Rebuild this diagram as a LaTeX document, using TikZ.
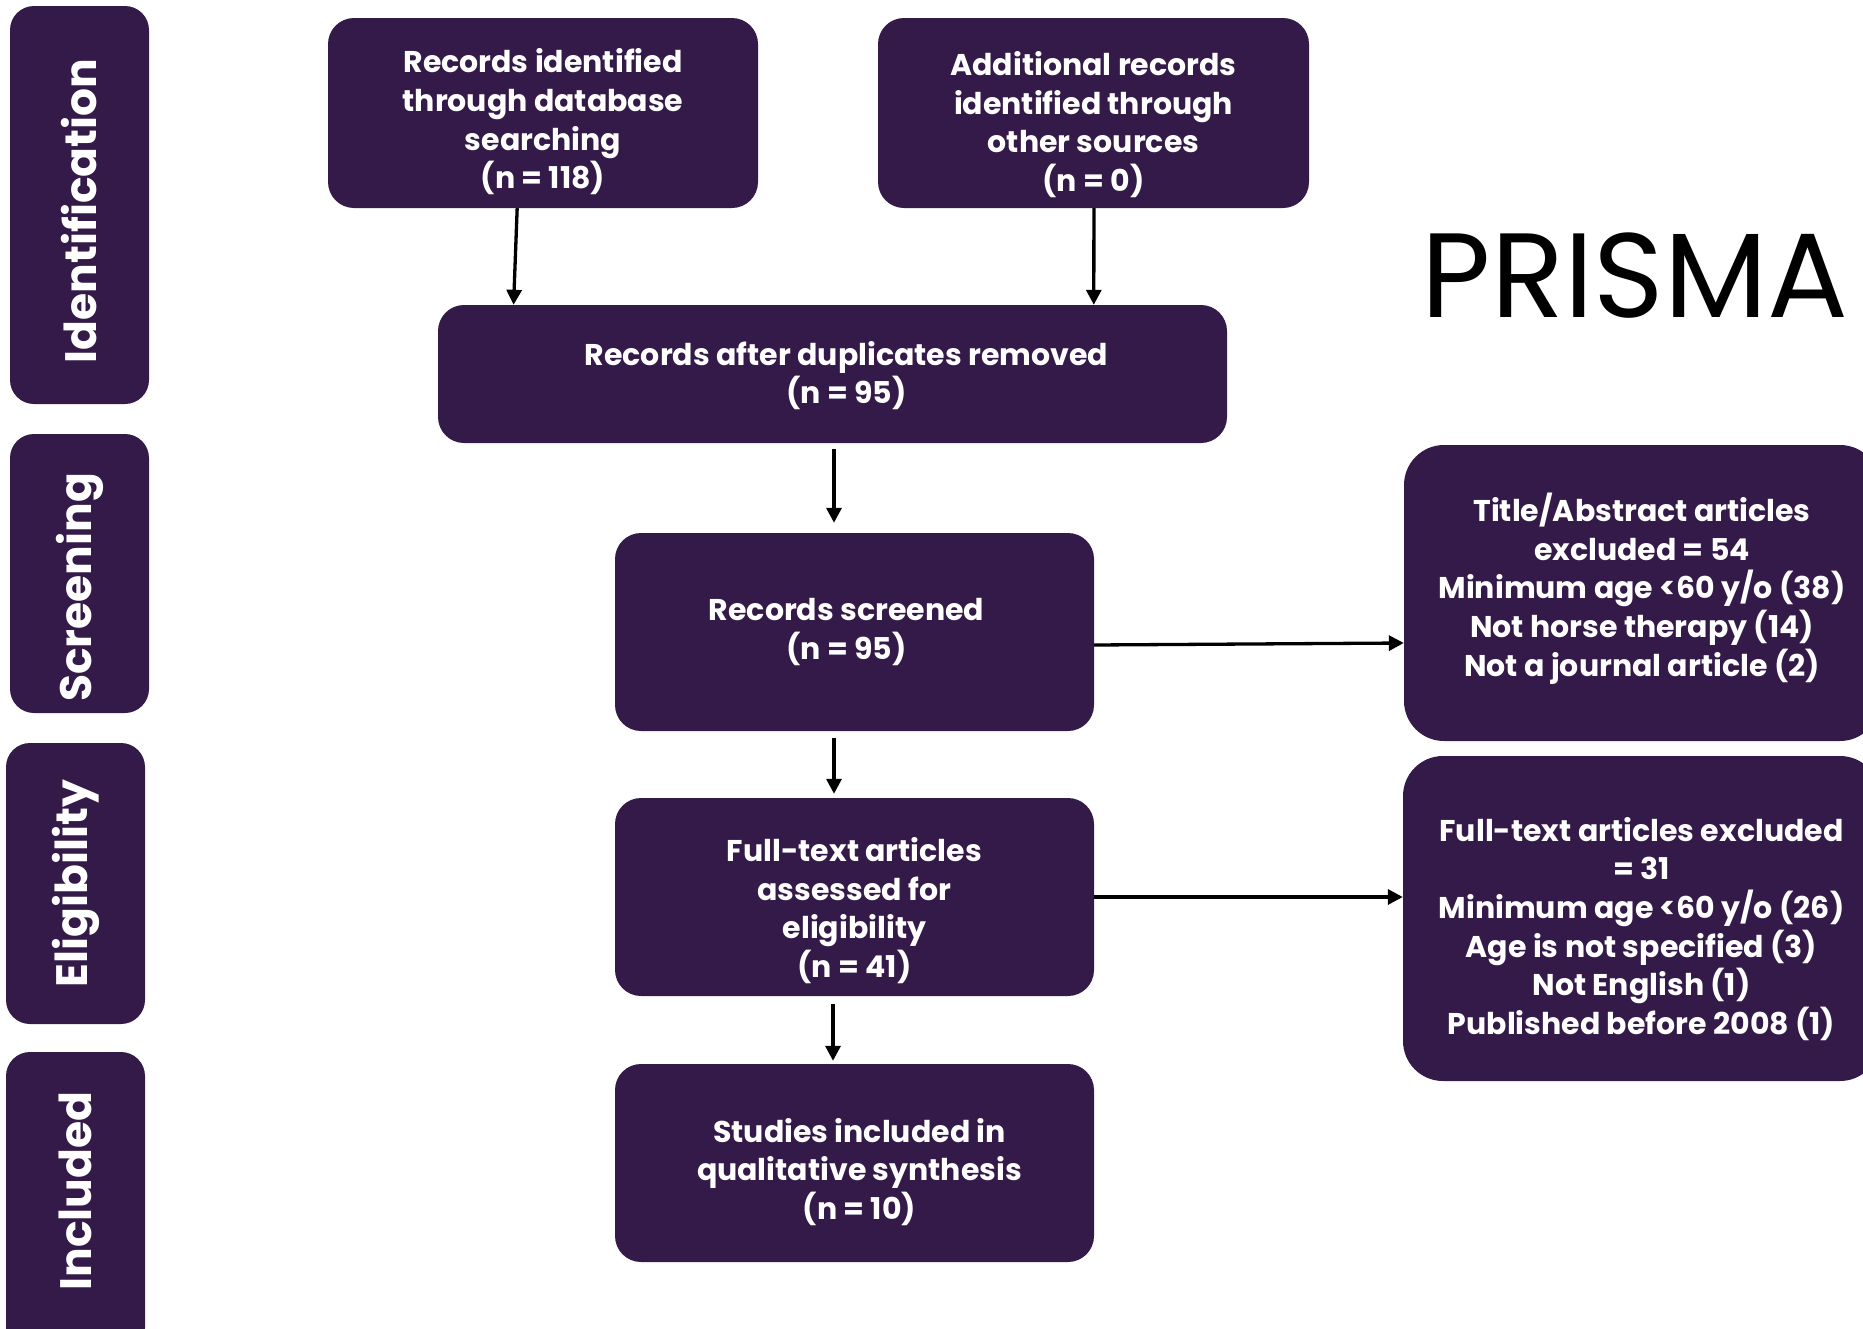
\documentclass[tikz,border=0pt]{standalone}
\usepackage{fontspec}
\setmainfont{Poppins}
\usetikzlibrary{arrows.meta,calc}
\definecolor{prisma}{HTML}{341A48}
\newcommand\strutdn[1]{\rule{0pt}{#1pt}}
\begin{document}
\begin{tikzpicture}[x=1pt,y=-1pt,
  box/.style={draw=none,fill=prisma,rounded corners=26pt,text=white,align=center,
    font=\bfseries\fontsize{30}{38.7}\selectfont,inner sep=0pt},
  stage/.style={draw=none,fill=prisma,rounded corners=24pt,text=white,rotate=90,
    font=\bfseries\fontsize{44}{50}\selectfont,inner sep=0pt},
  arr/.style={draw=black,line width=3.3pt,-{Triangle[length=15pt,width=15pt]}}]
\useasboundingbox (0,0) rectangle (1863,1328);
\clip (0,0) rectangle (1863,1328);
% stage labels
\node[stage,minimum width=398pt,minimum height=139pt] (sid) at (79.5,205) {Identification\hspace*{12pt}};
\node[stage,minimum width=279pt,minimum height=139pt] (sscr) at (79.5,573.5) {Screening\hspace*{28pt}};
\node[stage,minimum width=281pt,minimum height=139pt] (selig) at (75.5,883.5) {Eligibility};
\node[stage,minimum width=300pt,minimum height=139pt] (sincl) at (75.5,1202) {\hspace*{22pt}Included};
% flow boxes
\node[box,minimum width=430pt,minimum height=190pt] (rec) at (543,113)
  {\strutdn{42}Records identified\\through database\\searching\\(n = 118)};
\node[box,minimum width=431pt,minimum height=190pt] (add) at (1093.5,113)
  {\strutdn{47}Additional records\\identified through\\other sources\\(n = 0)};
\node[box,minimum width=789pt,minimum height=138pt] (dup) at (832.5,374)
  {\strutdn{27}\hspace*{28pt}Records after duplicates removed\\\hspace*{28pt}(n = 95)};
\node[box,minimum width=479pt,minimum height=198pt] (scr) at (854.5,632)
  {Records screened\hspace*{16pt}\\(n = 95)\hspace*{16pt}};
\node[box,minimum width=479pt,minimum height=198pt] (ft) at (854.5,897)
  {\strutdn{51}Full-text articles\\assessed for\\eligibility\\(n = 41)};
\node[box,minimum width=479pt,minimum height=198pt] (stud) at (854.5,1163)
  {\strutdn{42}\hspace*{10pt}Studies included in\\\hspace*{10pt}qualitative synthesis\\\hspace*{10pt}(n = 10)};
\node[box,minimum width=476pt,minimum height=296pt,rounded corners=40pt] (exa) at (1642,593)
  {Title/Abstract articles\\excluded = 54\\Minimum age <60 y/o (38)\\Not horse therapy (14)\\Not a journal article (2)\rule[-17pt]{0pt}{0pt}};
\node[box,minimum width=477pt,minimum height=325pt,rounded corners=40pt] (exb) at (1641.5,918.5)
  {\strutdn{45}Full-text articles excluded\\= 31\\Minimum age <60 y/o (26)\\Age is not specified (3)\\Not English (1)\\Published before 2008 (1)};
\node[anchor=base,font=\fontsize{120}{128}\selectfont] (title) at (1635,317) {PRISMA};
% arrows
\draw[arr] ($(rec.south west)!0.44!(rec.south east)$) -- ($(dup.north west)!0.096!(dup.north east)$);
\draw[arr] ($(add.south west)!0.501!(add.south east)$) -- ($(dup.north west)!0.831!(dup.north east)$);
\draw[arr] ($(dup.south)+(1.5,6)$) -- ($(scr.north)+(-20.5,-10)$);
\draw[arr] ($(scr.south)+(-20.5,7)$) -- ($(ft.north)+(-20.5,-4)$);
\draw[arr] ($(ft.south)+(-21.5,8)$) -- ($(stud.north)+(-21.5,-3)$);
\draw[arr] ($(scr.east)+(0,13)$) -- ($(exa.west)+(0,50)$);
\draw[arr] (ft.east) -- ($(exb.west)+(0,-21.5)$);
\end{tikzpicture}
\end{document}
